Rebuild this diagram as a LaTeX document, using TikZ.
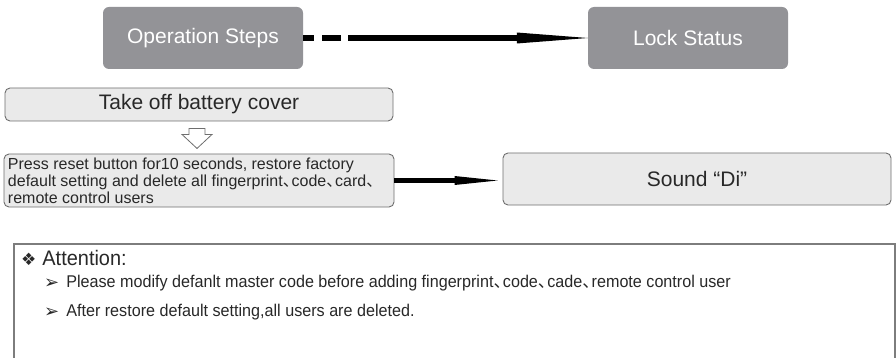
\documentclass[tikz,border=0pt]{standalone}
\usepackage{fontspec}
\setmainfont{Liberation Sans}
\newfontfamily\cjk{Noto Sans CJK SC}
\newfontfamily\sym{DejaVu Sans}
\newfontfamily\narrowfont{Liberation Sans}[FakeStretch=0.95]
\usetikzlibrary{arrows.meta,calc}
\definecolor{darkbox}{RGB}{147,147,151}
\definecolor{lightbox}{RGB}{234,234,234}
\definecolor{boxline}{RGB}{110,110,110}
\definecolor{attline}{RGB}{125,125,125}
\definecolor{txt}{RGB}{40,40,40}
\newcommand{\dunhao}{\makebox[0.55em][l]{\cjk 、}}
\newcommand{\pline}[1]{\makebox[382pt][l]{#1}}
\newcommand{\bulletmark}{\raisebox{-1pt}{\sym\fontsize{18}{18}\selectfont ➢}}
\begin{document}
\begin{tikzpicture}[x=1pt,y=-1pt,
  darkstep/.style={fill=darkbox, rounded corners=6pt, text=white, font=\fontsize{21}{25}\selectfont, inner sep=0pt},
  lightstep/.style={fill=lightbox, draw=boxline, line width=0.9pt, rounded corners=5pt, inner sep=0pt, text=txt},
  attbox/.style={draw=attline, line width=1.5pt, inner sep=0pt},
  atttext/.style={anchor=west, inner sep=0pt, text=txt, font=\narrowfont\fontsize{17}{19}\selectfont},
  bigarrow/.style={line width=6pt, -{Triangle[length=71pt,width=11pt,line width=0pt]}},
  smallarrow/.style={line width=4.5pt, -{Triangle[length=43pt,width=9pt,line width=0pt]}},
  hollowarrow/.style={draw=boxline, fill=white, line width=0.8pt, line join=miter}
  ]
\useasboundingbox (0,0) rectangle (896,358);
\node[darkstep, minimum width=200pt, minimum height=62pt] (ops) at (203,38) {Operation Steps};
\node[darkstep, minimum width=200pt, minimum height=62pt] (lock) at (688,38) {Lock Status};
\draw[bigarrow, dash pattern=on 11pt off 8pt on 19pt off 7pt on 2000pt off 0pt] (ops.east) -- (lock.west);

\node[lightstep, minimum width=388pt, minimum height=33pt, font=\fontsize{21}{25}\selectfont] (take) at (199,104.5) {Take off battery cover};
\node[lightstep, minimum width=388pt, minimum height=53pt, align=left, inner xsep=4pt, font=\fontsize{16}{16.8}\selectfont] (press) at (199,180.5) {\pline{Press reset button for10 seconds, restore factory}\\\pline{default setting and delete all fingerprint\dunhao code\dunhao card\dunhao}\\\pline{remote control users}};
\node[lightstep, minimum width=388pt, minimum height=52pt, font=\fontsize{21}{25}\selectfont] (sound) at (697,179) {Sound “Di”};
\draw[smallarrow, shorten >=5pt] (press.east) -- (press.east -| sound.west);

\coordinate (ha) at ($(take.south)+(-2,7)$);
\draw[hollowarrow] ($(ha)+(-8,0)$) -- ($(ha)+(8,0)$) -- ($(ha)+(8,6)$) -- ($(ha)+(15,6)$) -- ($(ha)+(0,20)$) -- ($(ha)+(-15,6)$) -- ($(ha)+(-8,6)$) -- cycle;

\node[attbox, anchor=north west, minimum width=881pt, minimum height=125pt] (att) at (13,243) {};
\node[atttext, font=\narrowfont\fontsize{21}{23}\selectfont] (atthead) at (21,258) {{\sym\fontsize{17}{19}\selectfont ❖}\hspace{6pt}Attention:};
\node[atttext] (l1) at (44,283) {\bulletmark\hspace{7pt}Please modify defanlt master code before adding fingerprint\dunhao code\dunhao cade\dunhao remote control user};
\node[atttext] (l2) at (44,312) {\bulletmark\hspace{7pt}After restore default setting,all users are deleted.};
\end{tikzpicture}
\end{document}
